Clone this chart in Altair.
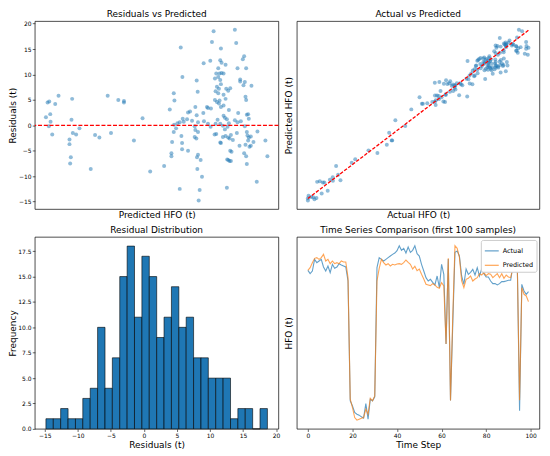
import altair as alt
import pandas as pd

# ---------------- data ----------------
pred_hfo = [
    27.4, 28.4, 29.4, 30.0, 30.2, 29.2, 31.2, 33.0, 35.0, 41.6,
    41.6, 42.0, 42.4, 42.8, 43.2, 43.6, 45.6, 47.6, 54.4, 57.0,
    59.6, 64.6, 66.6, 71.0, 74.4, 74.4, 80.4, 85.6, 90.2, 98.6,
    108.6, 128.4, 127.4, 126.4, 122.4, 109.6, 118.2, 118.8, 104.4, 104.8,
    102.0, 117.4, 113.0, 114.2, 118.2, 122.2, 124.4, 125.0, 109.8, 112.4,
    115.4, 110.4, 108.0, 106.6, 104.6, 119.0, 122.6, 125.0, 105.8, 117.0,
    117.4, 119.0, 109.0, 104.4, 117.0, 118.0, 103.4, 109.4, 109.4, 113.0,
    103.0, 103.0, 119.0, 118.4, 120.6, 118.6, 121.4, 108.0, 120.0, 119.4,
    126.8, 126.6,
    141.2, 142.0, 132.8, 146.8, 146.0, 132.4, 133.2, 135.6, 142.8, 148.0,
    131.2, 130.0, 132.0, 133.2, 134.4, 131.2, 129.2, 144.4, 144.4, 147.2,
    146.4, 151.2, 132.4, 132.8, 130.4, 131.6, 136.0, 138.4, 137.2, 129.6,
    131.2, 134.4, 147.6, 148.0, 135.6, 129.2, 130.4, 131.6, 132.8, 134.4,
    143.2, 148.4, 149.6, 149.2, 134.4, 135.2, 136.4, 130.8, 141.2, 142.8,
    144.8, 129.6, 132.4, 134.0, 147.2, 130.0, 134.0, 135.6, 137.2, 138.8,
    138.0, 132.8, 142.4, 148.4, 148.8, 149.6, 149.2, 150.8, 154.8, 152.4,
    147.6, 150.0, 150.8, 144.0, 139.2, 137.2, 138.0, 146.8, 148.0, 148.4,
    159.6, 160.8, 154.4, 136.4,
    137.6, 136.8, 135.2, 138.8, 136.6, 140.0, 138.4, 137.6, 132.0, 129.0, 132.4,
]

residuals = [
    1.6, 4.5, 4.7, 2.2, 0.7, -0.2, -1.8, 4.2, 5.8, -2.8,
    -3.7, -7.5, -6.3, 1.1, 5.2, -1.5, -1.8, -0.6, -8.6, -1.9,
    -2.4, 5.8, -1.5, 5.0, 4.8, 4.5, -3.0, 1.4, -9.1, -8.0,
    15.3, 18.5, 16.4, 12.7, 12.2, 9.5, 8.8, 6.6, 6.3, 4.9,
    3.1, 3.6, 2.5, 2.7, 2.0, 2.4, 3.6, 3.4, 1.3, 1.2,
    0.9, 0.7, 0.6, 0.4, 0.1, 0.6, 0.8, 0.3, -0.6, -0.2,
    -0.9, -1.3, -2.1, -1.3, -2.3, -2.6, -3.3, -3.5, -4.7, -5.0,
    -5.5, -6.1, -5.8, -6.3, -6.8, -8.6, -10.1, -12.5, -12.7, -14.8,
    3.3, -0.3,
    18.8, 16.2, 15.1, 13.6, 13.0, 12.8, 12.3, 11.9, 11.2, 11.2,
    11.2, 10.2, 10.2, 10.3, 10.2, 9.5, 9.2, 9.0, 8.6, 8.5,
    7.9, 7.8, 8.9, 8.1, 7.6, 7.2, 7.2, 7.3, 6.8, 6.7,
    6.3, 6.0, 5.6, 5.0, 5.2, 5.0, 4.6, 4.3, 3.6, 3.9,
    2.4, 2.1, 1.3, 2.2, 1.9, 1.5, 1.2, 1.1, 1.0, 0.6,
    0.8, 0.3, 0.3, -0.1, -0.2, -1.7, -2.3, -2.1, -2.4, -1.9,
    -2.6, -3.5, -1.5, -1.3, -2.0, -2.4, -3.0, -2.2, -1.2, -3.3,
    -3.8, -4.2, -4.0, -4.0, -5.2, -6.8, -7.0, -5.5, -6.1, -7.6,
    -3.0, -6.1, -11.1, -12.3,
    3.0, -0.3, -0.8, -7.0, -6.7, -2.9, -5.0, 0.4, 4.9, -1.8, -3.4,
]

bin_edges = [
    -14.82, -13.70, -12.59, -11.47, -10.35, -9.24, -8.12, -7.00, -5.88, -4.77,
    -3.65, -2.53, -1.42, -0.30, 0.82, 1.94, 3.05, 4.17, 5.29, 6.40,
    7.52, 8.64, 9.75, 10.87, 11.99, 13.11, 14.22, 15.34, 16.46, 17.57, 18.69,
]
bin_counts = [1, 1, 2, 1, 1, 3, 4, 10, 4, 7, 15, 18, 11, 17, 15,
              9, 11, 14, 10, 11, 7, 7, 5, 5, 5, 1, 2, 2, 0, 2]

ts_actual = [
    472, 462, 470, 505, 495, 500, 505, 482, 470, 485,
    465, 490, 478, 482, 492, 488, 485, 482, 440, 80,
    65, 45, 40, 37, 32, 28, 72, 25, 85, 80,
    92, 480, 510, 505, 500, 505, 510, 515, 520, 524,
    531, 546, 532, 538, 524, 542, 526, 532, 546, 522,
    515, 490, 470, 450, 440, 445, 436, 428, 455, 420,
    490, 460, 251, 506, 81, 306, 526, 530, 515, 455,
    430, 476, 460, 466, 475, 458, 480, 455, 476, 462,
    452, 452, 440, 432, 432, 428, 432, 438, 438, 440,
    442, 442, 485, 484, 480, 50, 430, 410, 400, 408,
]
ts_predicted = [
    472, 480, 495, 508, 510, 505, 510, 520, 500, 505,
    492, 500, 492, 495, 492, 500, 497, 497, 450, 85,
    60, 30, 22, 25, 28, 30, 55, 40, 88, 80,
    95, 440, 478, 505, 495, 488, 492, 485, 490, 488,
    491, 492, 490, 495, 503, 496, 490, 476, 484, 471,
    476, 460, 446, 430, 428, 426, 432, 428, 421, 418,
    435, 425, 251, 508, 81, 330, 546, 538, 511, 440,
    420, 445, 448, 455, 440, 446, 450, 462, 458, 465,
    456, 462, 460, 450, 456, 462, 450, 462, 448, 458,
    452, 450, 480, 482, 480, 82, 420, 400, 395, 378,
]

# ---------------- styling ----------------
FONT = "DejaVu Sans"
BLUE = "#1f77b4"
ORANGE = "#ff7f0e"


def padded(lo, hi, frac=0.05):
    span = hi - lo
    return [lo - frac * span, hi + frac * span]


hidden = dict(labels=False, ticks=False, domain=False, grid=False)

scatter = pd.DataFrame({"pred": pred_hfo, "resid": residuals})
scatter["actual"] = scatter["pred"] + scatter["resid"]

TOP_H = 189
BOT_H = 193

# ---------- panel 1: residuals vs predicted ----------
res_x = alt.Scale(domain=padded(min(pred_hfo), max(pred_hfo)), nice=False, zero=False)
res_y = alt.Scale(domain=padded(min(residuals), max(residuals)), nice=False, zero=False)
res_x_axis = alt.Axis(title="Predicted HFO (t)", titlePadding=1, **hidden)
res_y_axis = alt.Axis(title="Residuals (t)", values=[-15, -10, -5, 0, 5, 10, 15, 20],
                      labelOverlap=False, minExtent=17, maxExtent=17, titlePadding=0)

p1_pts = alt.Chart(scatter).mark_circle(color=BLUE, opacity=0.5, size=16).encode(
    x=alt.X("pred:Q", scale=res_x, axis=res_x_axis),
    y=alt.Y("resid:Q", scale=res_y, axis=res_y_axis),
)
p1_zero = alt.Chart(pd.DataFrame({"resid": [0.0]})).mark_rule(
    color="#ff0000", strokeDash=[4, 1.8], strokeWidth=1.2
).encode(y=alt.Y("resid:Q", scale=res_y, axis=res_y_axis))
p1 = alt.layer(p1_pts, p1_zero).properties(
    title="Residuals vs Predicted", width=245, height=TOP_H)

# ---------- panel 2: actual vs predicted ----------
a_min, a_max = float(scatter["actual"].min()), float(scatter["actual"].max())
avp_x = alt.Scale(domain=padded(a_min, a_max), nice=False, zero=False)
avp_y = alt.Scale(domain=padded(min(min(pred_hfo), a_min), max(max(pred_hfo), a_max)),
                  nice=False, zero=False)
avp_x_axis = alt.Axis(title="Actual HFO (t)", titlePadding=1, **hidden)
avp_y_axis = alt.Axis(title="Predicted HFO (t)", titlePadding=3.5, **hidden)
p2_pts = alt.Chart(scatter).mark_circle(color=BLUE, opacity=0.5, size=16).encode(
    x=alt.X("actual:Q", scale=avp_x, axis=avp_x_axis),
    y=alt.Y("pred:Q", scale=avp_y, axis=avp_y_axis),
)
ident = pd.DataFrame({"actual": [a_min, a_max], "pred": [a_min, a_max]})
p2_line = alt.Chart(ident).mark_line(color="#ff0000", strokeDash=[3.5, 1.6], strokeWidth=1.3).encode(
    x=alt.X("actual:Q", scale=avp_x, axis=avp_x_axis),
    y=alt.Y("pred:Q", scale=avp_y, axis=avp_y_axis))
p2 = alt.layer(p2_pts, p2_line).properties(
    title="Actual vs Predicted", width=244, height=TOP_H)

# ---------- panel 3: histogram ----------
hist = pd.DataFrame({"bin_start": bin_edges[:-1], "bin_end": bin_edges[1:], "count": bin_counts})
p3 = alt.Chart(hist).mark_bar(color=BLUE, stroke="black", strokeWidth=0.6).encode(
    x=alt.X("bin_start:Q",
            scale=alt.Scale(domain=padded(bin_edges[0], bin_edges[-1]), nice=False, zero=False),
            axis=alt.Axis(title="Residuals (t)", values=[-15, -10, -5, 0, 5, 10, 15, 20],
                          labelOverlap=False, labelFlush=False, titlePadding=2)),
    x2="bin_end:Q",
    y=alt.Y("count:Q", scale=alt.Scale(domain=[0, max(bin_counts) * 1.05], nice=False),
            axis=alt.Axis(title="Frequency", values=[0, 2.5, 5, 7.5, 10, 12.5, 15, 17.5],
                          format=".1f", labelOverlap=False, minExtent=17, maxExtent=17,
                          titlePadding=0)),
    y2=alt.datum(0),
).properties(title="Residual Distribution", width=245, height=BOT_H)

# ---------- panel 4: time series ----------
steps = list(range(len(ts_actual)))
ts = pd.concat([
    pd.DataFrame({"step": steps, "hfo": ts_actual, "series": "Actual"}),
    pd.DataFrame({"step": steps, "hfo": ts_predicted, "series": "Predicted"}),
])
all_vals = ts_actual + ts_predicted
p4 = alt.Chart(ts).mark_line(strokeWidth=1.1, opacity=0.7).encode(
    x=alt.X("step:Q", scale=alt.Scale(domain=padded(0, len(steps) - 1), nice=False, zero=False),
            axis=alt.Axis(title="Time Step", values=[0, 20, 40, 60, 80, 100],
                          labelOverlap=False, labelFlush=False, titlePadding=2)),
    y=alt.Y("hfo:Q", scale=alt.Scale(domain=padded(min(all_vals), max(all_vals)), nice=False, zero=False),
            axis=alt.Axis(title="HFO (t)", titlePadding=3.5, **hidden)),
    color=alt.Color("series:N",
                    scale=alt.Scale(domain=["Actual", "Predicted"], range=[BLUE, ORANGE]),
                    legend=alt.Legend(title=None, orient="top-right", offset=3,
                                      fillColor="white", strokeColor="#cccccc",
                                      padding=3, cornerRadius=2, symbolType="stroke",
                                      symbolSize=196, symbolStrokeWidth=1.2,
                                      symbolOpacity=0.7, labelFont=FONT,
                                      labelFontSize=6.5, labelColor="black",
                                      rowPadding=2.5, labelOffset=3)),
).properties(title="Time Series Comparison (first 100 samples)", width=244, height=BOT_H)

chart = alt.concat(p1, p2, p3, p4, columns=2, spacing={"row": 5, "column": 3.5}).resolve_scale(
    color="independent"
).resolve_legend(color="independent").properties(
    padding={"left": 0, "top": 0, "right": 2, "bottom": 0}, background="white"
).configure_view(
    stroke="black", strokeWidth=0.7
).configure_axis(
    labelFont=FONT, labelFontSize=6, labelColor="black",
    titleFont=FONT, titleFontSize=9, titleFontWeight="normal", titleColor="black",
    tickColor="black", tickWidth=0.6, tickSize=2.6, labelPadding=1.2,
    grid=False, domain=False, labelOverlap=False,
).configure_title(
    font=FONT, fontSize=9, fontWeight="normal", color="black", offset=2, frame="group"
)

chart.save("out.html", embed_options={"renderer": "svg", "actions": False})
